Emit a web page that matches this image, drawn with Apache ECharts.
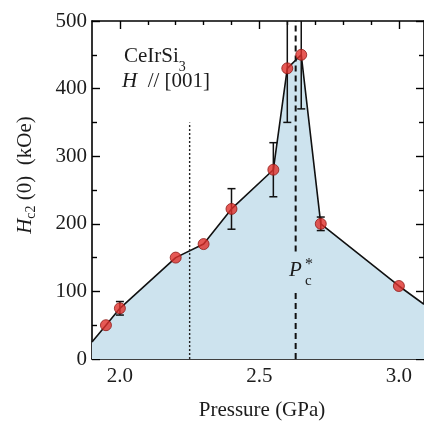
<!DOCTYPE html>
<html>
<head>
<meta charset="utf-8">
<script src="https://cdn.jsdelivr.net/npm/echarts@6/dist/echarts.min.js"></script>
<style>
  html, body { margin: 0; padding: 0; background: #fff; }
  #chart { width: 424px; height: 421px; }
</style>
</head>
<body>
<div id="chart"></div>
<script>
// measured points
const pressure = [1.95, 2.0, 2.2, 2.3, 2.4, 2.55, 2.6, 2.65, 2.72, 3.0];
const hc2 = [50, 75, 150, 170, 222, 280, 430, 450, 200, 108];
const hc2Err = [0, 10, 0, 0, 30, 40, 80, 80, 10, 0];
// where the boundary line leaves the frame
const edgeP = [1.9, 3.09];
const edgeHc2 = [25, 81];
// vertical markers
const dottedP = 2.25;
const dottedTop = 350;
const pcStar = 2.63;
const pcGap = [103, 159];
// ticks
const xMajor = [2.0, 2.5, 3.0];
const xMinor = [2.1, 2.2, 2.3, 2.4, 2.6, 2.7, 2.8, 2.9];

const FONT = "Liberation Serif";
const INK = "#1c1c1c";

const points = pressure.map((p, i) => [p, hc2[i]]);
const boundary = [[edgeP[0], edgeHc2[0]]].concat(points, [[edgeP[1], edgeHc2[1]]]);
const errData = pressure
  .map((p, i) => [p, hc2[i] - hc2Err[i], hc2[i] + hc2Err[i], hc2Err[i]])
  .filter((d) => d[3] > 0);

function xAxisOf(position, ticks, length, showLine, showLabel) {
  return {
    type: "value",
    position: position,
    min: 1.9,
    max: 3.09,
    axisLine: { show: showLine, onZero: false, lineStyle: { color: "#000", width: 1.6 } },
    axisTick: { inside: true, length: length, customValues: ticks, lineStyle: { color: "#000", width: 1.4 } },
    axisLabel: {
      show: showLabel,
      customValues: xMajor,
      formatter: (v) => v.toFixed(1),
      color: INK,
      fontFamily: FONT,
      fontSize: 21,
      margin: 7,
    },
    splitLine: { show: false },
  };
}

function yAxisOf(position, showLabel) {
  return {
    type: "value",
    position: position,
    min: 0,
    max: 500,
    interval: 100,
    axisLine: { show: true, lineStyle: { color: "#000", width: 1.6 } },
    axisTick: { inside: true, length: 8, lineStyle: { color: "#000", width: 1.4 } },
    minorTick: { show: true, splitNumber: 2, length: 5, lineStyle: { color: "#000", width: 1.4 } },
    axisLabel: { show: showLabel, color: INK, fontFamily: FONT, fontSize: 21, margin: 5 },
    splitLine: { show: false },
  };
}

const chart = echarts.init(document.getElementById("chart"));
chart.setOption({
  animation: false,
  grid: { left: 92, right: -5, top: 21, bottom: 62, containLabel: false },
  xAxis: [
    xAxisOf("bottom", xMajor, 8, true, true),
    xAxisOf("bottom", xMinor, 4, false, false),
    xAxisOf("top", xMajor, 8, true, false),
    xAxisOf("top", xMinor, 4, false, false),
  ],
  yAxis: [yAxisOf("left", true), yAxisOf("right", false)],
  series: [
    {
      type: "line",
      data: boundary,
      symbol: "none",
      lineStyle: { color: "#111", width: 1.6 },
      areaStyle: { color: "#cde3ee", opacity: 1 },
      z: 1,
    },
    {
      type: "line",
      data: [[dottedP, 0], [dottedP, dottedTop]],
      symbol: "none",
      lineStyle: { color: "#222", width: 1.4, type: [2, 2] },
      z: 2,
    },
    {
      type: "line",
      data: [[pcStar, 0], [pcStar, pcGap[0]]],
      symbol: "none",
      lineStyle: { color: "#111", width: 2, type: [6, 4] },
      z: 2,
    },
    {
      type: "line",
      data: [[pcStar, pcGap[1]], [pcStar, 500]],
      symbol: "none",
      lineStyle: { color: "#111", width: 2, type: [6, 4] },
      z: 2,
    },
    {
      type: "custom",
      clip: true,
      data: errData,
      renderItem: function (params, api) {
        const x = api.value(0);
        const lo = api.coord([x, api.value(1)]);
        const hi = api.coord([x, api.value(2)]);
        const w = 4;
        const style = { stroke: "#111", lineWidth: 1.5 };
        return {
          type: "group",
          children: [
            { type: "line", shape: { x1: lo[0], y1: lo[1], x2: hi[0], y2: hi[1] }, style: style },
            { type: "line", shape: { x1: lo[0] - w, y1: lo[1], x2: lo[0] + w, y2: lo[1] }, style: style },
            { type: "line", shape: { x1: hi[0] - w, y1: hi[1], x2: hi[0] + w, y2: hi[1] }, style: style },
          ],
        };
      },
      z: 3,
    },
    {
      type: "scatter",
      data: points,
      symbol: "circle",
      symbolSize: 11,
      itemStyle: { color: "#e0302a", borderColor: "#8e1a16", borderWidth: 1 },
      z: 4,
    },
  ],
  graphic: [
    {
      type: "text",
      left: 124,
      top: 44,
      z: 100,
      style: {
        text: "{n|CeIrSi}{s|3}",
        rich: {
          n: { fontFamily: FONT, fontSize: 21, fill: INK, lineHeight: 26, verticalAlign: "top" },
          s: { fontFamily: FONT, fontSize: 14, fill: INK, lineHeight: 26, padding: [16, 0, 0, 0] },
        },
      },
    },
    {
      type: "text",
      left: 122,
      top: 71,
      z: 100,
      style: {
        text: "{i|H}{n|  // [001]}",
        rich: {
          i: { fontFamily: FONT, fontSize: 21, fontStyle: "italic", fill: INK },
          n: { fontFamily: FONT, fontSize: 21, fill: INK },
        },
      },
    },
    {
      type: "text",
      left: 289,
      top: 260,
      z: 100,
      style: { text: "P", fontFamily: FONT, fontSize: 21, fontStyle: "italic", fill: INK },
    },
    {
      type: "text",
      left: 305,
      top: 274,
      z: 100,
      style: { text: "c", fontFamily: FONT, fontSize: 15, fill: INK },
    },
    {
      type: "text",
      left: 305,
      top: 257,
      z: 100,
      style: { text: "*", fontFamily: FONT, fontSize: 16, fill: INK },
    },
    {
      type: "text",
      x: 25,
      y: 175,
      z: 100,
      rotation: Math.PI / 2,
      style: {
        text: "{i|H}{s|c2}{n| (0)  (kOe)}",
        align: "center",
        verticalAlign: "middle",
        rich: {
          i: { fontFamily: FONT, fontSize: 21, fontStyle: "italic", fill: INK, lineHeight: 26 },
          s: { fontFamily: FONT, fontSize: 14, fill: INK, lineHeight: 26, padding: [12, 0, 0, 0] },
          n: { fontFamily: FONT, fontSize: 21, fill: INK, lineHeight: 26 },
        },
      },
    },
    {
      type: "text",
      x: 262,
      y: 410,
      z: 100,
      style: {
        text: "Pressure (GPa)",
        fontFamily: FONT,
        fontSize: 21,
        fill: INK,
        align: "center",
        verticalAlign: "middle",
      },
    },
  ],
});
</script>
</body>
</html>
